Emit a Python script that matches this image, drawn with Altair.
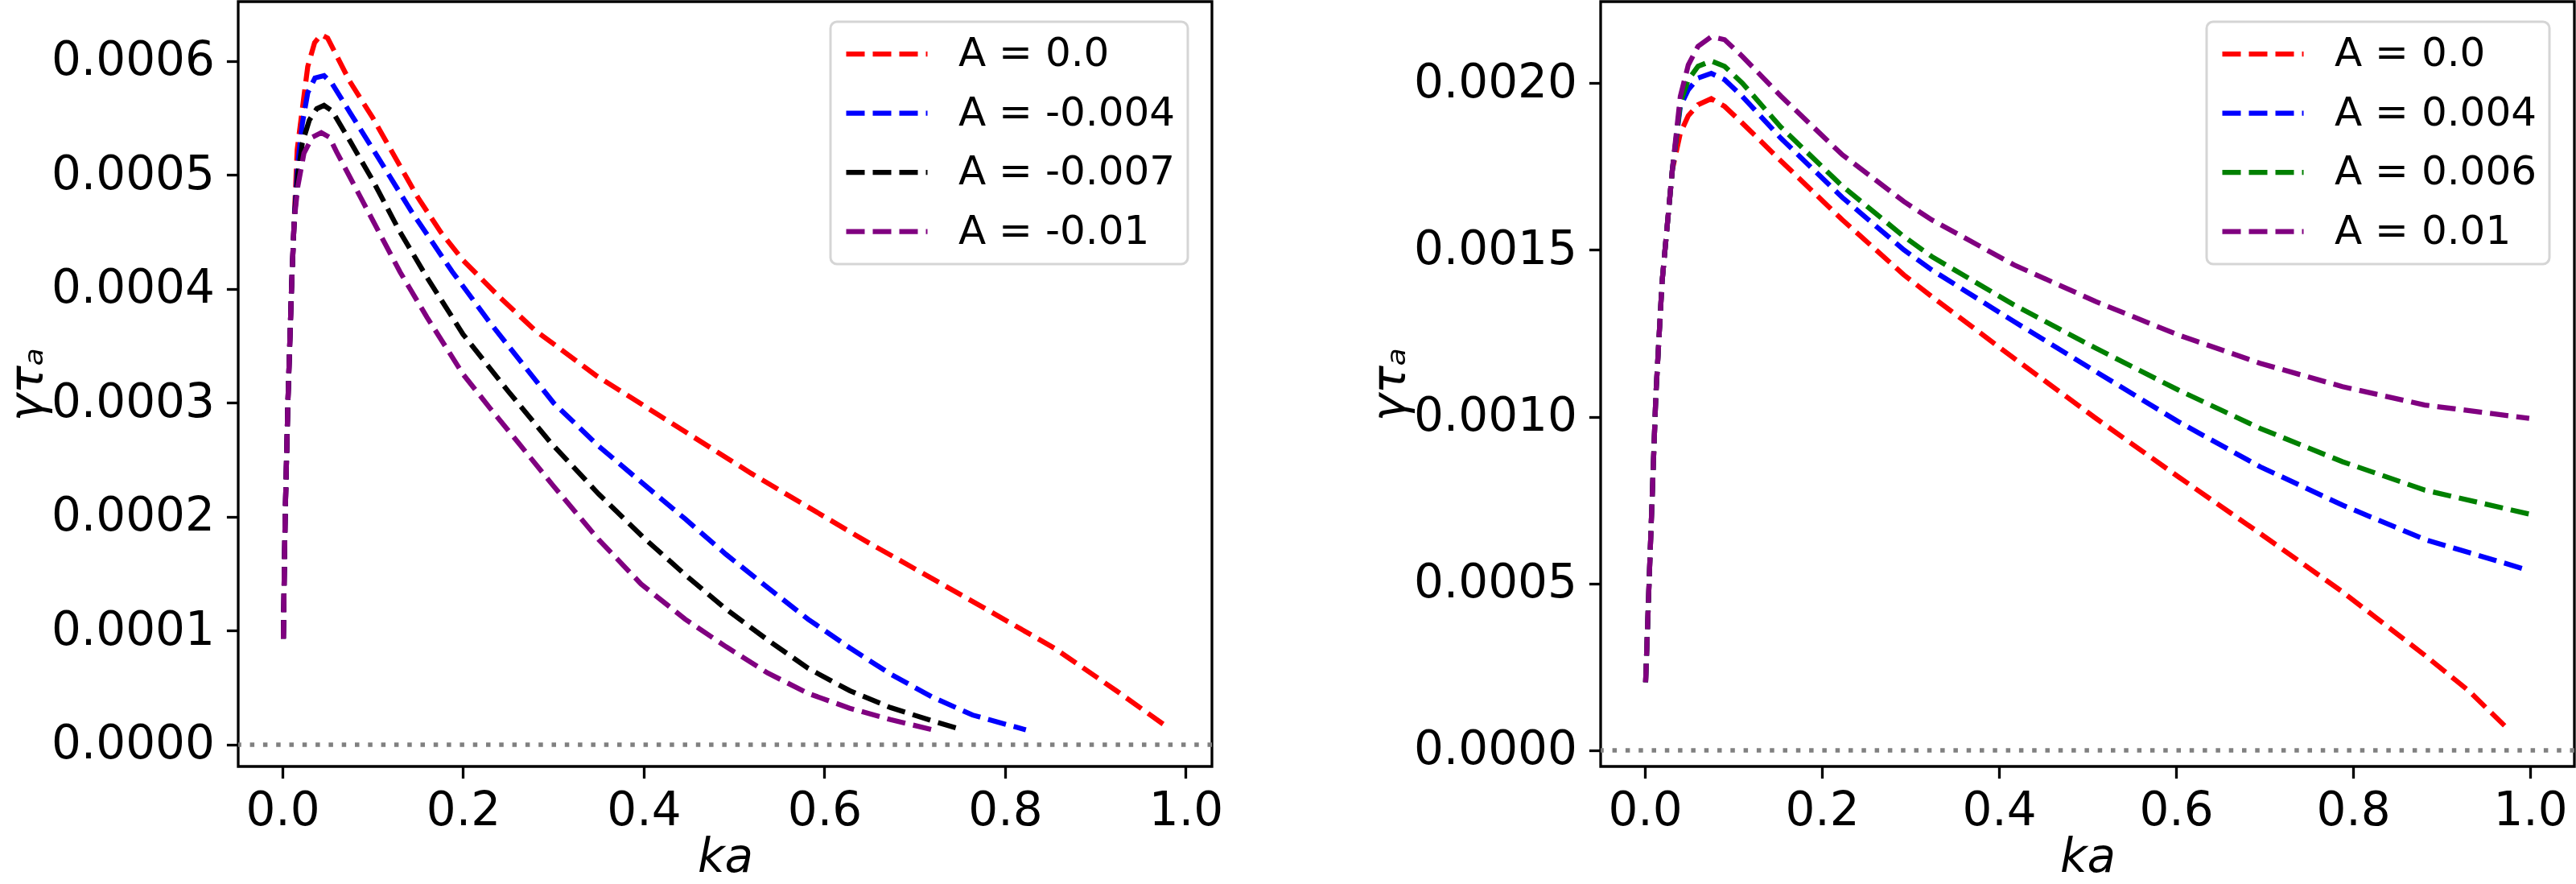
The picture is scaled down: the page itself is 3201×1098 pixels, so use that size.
import altair as alt
import pandas as pd

# ---------------- data ----------------
left_labels = ["A = 0.0", "A = -0.004", "A = -0.007", "A = -0.01"]
left_colors = ["red", "blue", "black", "purple"]

rise_x = [0.001, 0.002, 0.003, 0.0045, 0.006, 0.008, 0.010, 0.013]
rise_y = [0.93, 1.5, 2.0, 2.5, 3.0, 3.5, 4.0, 4.6]

l_red_x = rise_x + [0.0163, 0.0238, 0.028, 0.0356, 0.043, 0.05, 0.0745, 0.1, 0.125, 0.15, 0.175, 0.2, 0.24, 0.279, 0.347, 0.40, 0.519, 0.646, 0.773, 0.855, 0.923, 0.98]
l_red_y = rise_y + [5.22, 5.69, 5.95, 6.16, 6.23, 6.2, 5.82, 5.5, 5.15, 4.8, 4.5, 4.25, 3.93, 3.64, 3.24, 2.975, 2.38, 1.785, 1.217, 0.845, 0.474, 0.152]

l_blue_x = rise_x + [0.017, 0.022, 0.028, 0.036, 0.046, 0.055, 0.0745, 0.106, 0.1427, 0.188, 0.23, 0.27, 0.3, 0.35, 0.4007, 0.446, 0.491, 0.537, 0.582, 0.628, 0.673, 0.719, 0.764, 0.823]
l_blue_y = rise_y + [5.1, 5.45, 5.72, 5.85, 5.87, 5.8, 5.55, 5.15, 4.68, 4.15, 3.7, 3.3, 3.0, 2.62, 2.28, 1.98, 1.67, 1.38, 1.1, 0.85, 0.62, 0.42, 0.26, 0.13]

l_black_x = rise_x + [0.017, 0.022, 0.0297, 0.038, 0.046, 0.055, 0.0745, 0.1, 0.13, 0.16, 0.2, 0.25, 0.297, 0.35, 0.4007, 0.446, 0.491, 0.537, 0.582, 0.628, 0.673, 0.719, 0.753]
l_black_y = rise_y + [5.0, 5.28, 5.48, 5.58, 5.61, 5.56, 5.3, 4.95, 4.5, 4.1, 3.6, 3.1, 2.65, 2.2, 1.81, 1.49, 1.19, 0.92, 0.67, 0.474, 0.326, 0.21, 0.13]

l_purple_x = rise_x + [0.017, 0.0238, 0.033, 0.043, 0.052, 0.06, 0.08, 0.1, 0.13, 0.16, 0.2, 0.23, 0.261, 0.3, 0.35, 0.397, 0.446, 0.491, 0.537, 0.582, 0.628, 0.673, 0.72]
l_purple_y = rise_y + [4.9, 5.19, 5.33, 5.37, 5.33, 5.2, 4.9, 4.6, 4.15, 3.75, 3.25, 2.95, 2.65, 2.27, 1.8, 1.41, 1.1, 0.86, 0.63, 0.45, 0.32, 0.22, 0.13]

right_labels = ["A = 0.0", "A = 0.004", "A = 0.006", "A = 0.01"]
right_colors = ["red", "blue", "green", "purple"]

r_rise_x = [0.0008, 0.0055, 0.0124, 0.0194, 0.031]
r_rise_y = [2.04, 5.6, 10.66, 14.04, 17.4]

r_tail_x = [0.04, 0.049, 0.06, 0.075, 0.09, 0.11, 0.1535, 0.223, 0.2925, 0.324, 0.417, 0.5095, 0.6025, 0.695, 0.788, 0.881]

r_red_x = r_rise_x + r_tail_x + [0.93, 0.973]
r_red_y = r_rise_y + [18.5, 19.02, 19.35, 19.53, 19.3, 18.8, 17.67, 15.9, 14.25, 13.6, 11.75, 9.95, 8.2, 6.5, 4.75, 2.85, 1.8, 0.69]

r_blue_x = r_rise_x + r_tail_x + [0.999]
r_blue_y = r_rise_y + [19.3, 19.8, 20.15, 20.29, 20.1, 19.6, 18.35, 16.57, 15.0, 14.4, 12.85, 11.35, 9.85, 8.5, 7.35, 6.32, 5.39]

r_green_x = r_rise_x + r_tail_x + [0.999]
r_green_y = r_rise_y + [19.4, 20.1, 20.5, 20.66, 20.5, 20.0, 18.68, 16.91, 15.4, 14.8, 13.35, 12.05, 10.8, 9.65, 8.65, 7.8, 7.08]

r_purple_x = r_rise_x + r_tail_x + [0.999]
r_purple_y = r_rise_y + [19.6, 20.54, 21.1, 21.39, 21.3, 20.8, 19.61, 17.85, 16.45, 15.9, 14.55, 13.45, 12.45, 11.6, 10.9, 10.35, 9.95]

left_ticks_y = [0.0, 0.0001, 0.0002, 0.0003, 0.0004, 0.0005, 0.0006]
right_ticks_y = [0.0, 0.0005, 0.0010, 0.0015, 0.0020]
ticks_x = [0.0, 0.2, 0.4, 0.6, 0.8, 1.0]

FONT = "DejaVu Sans"
PW, PH = 1210, 950
LW = 6.25
DASH = [23, 10]


def frame(xs, ys, label):
    return pd.DataFrame({"ka": xs, "g": [v * 1e-4 for v in ys], "series": label})


def panel(series, labels, colors, ydomain, yticks, xdomain, legend_x):
    legend = alt.Legend(
        title=None, orient="none", legendX=legend_x, legendY=25,
        symbolType="stroke", symbolSize=101 * 101, symbolStrokeWidth=LW,
        symbolDash=DASH, symbolOffset=1, clipHeight=50,
        labelFontSize=50, labelFont=FONT, labelColor="black",
        labelOffset=35, rowPadding=23.5, padding=15, fillColor="white",
        strokeColor="#d5d5d5", cornerRadius=8, labelLimit=0,
    )
    xenc = alt.X(
        "ka:Q",
        scale=alt.Scale(domain=xdomain, nice=False, zero=False),
        axis=alt.Axis(values=ticks_x, format=".1f", title="ka",
                      titleFontStyle="italic", titlePadding=0),
    )
    yenc = alt.Y(
        "g:Q",
        scale=alt.Scale(domain=ydomain, nice=False, zero=False),
        axis=alt.Axis(values=yticks, format=".4f", title="γτₐ",
                      titleFontStyle="italic", titlePadding=32, labelLimit=0),
    )
    zero = alt.Chart(pd.DataFrame({"g": [0.0]})).mark_rule(
        color="#808080", strokeWidth=5.5, strokeDash=[5.5, 10.8]
    ).encode(y=alt.Y("g:Q", scale=alt.Scale(domain=ydomain, nice=False, zero=False)))
    layers = [zero]
    for (xs, ys), lab in zip(series, labels):
        layers.append(
            alt.Chart(frame(xs, ys, lab)).mark_line(
                strokeWidth=LW, strokeDash=DASH, strokeCap="butt", clip=True
            ).encode(
                x=xenc, y=yenc,
                color=alt.Color("series:N", sort=None,
                                scale=alt.Scale(domain=labels, range=colors),
                                legend=legend),
                order=alt.Order("ka:Q"),
            )
        )
    return alt.layer(*layers).properties(width=PW, height=PH)


left = panel(
    [(l_red_x, l_red_y), (l_blue_x, l_blue_y), (l_black_x, l_black_y), (l_purple_x, l_purple_y)],
    left_labels, left_colors, [-0.0000191, 0.000652], left_ticks_y, [-0.049, 1.029], 736,
)
right = panel(
    [(r_red_x, r_red_y), (r_blue_x, r_blue_y), (r_green_x, r_green_y), (r_purple_x, r_purple_y)],
    right_labels, right_colors, [-0.0000483, 0.002244], right_ticks_y, [-0.05, 1.05], 753,
)

chart = alt.hconcat(left, right, spacing=483, bounds="flush").resolve_scale(
    color="independent", x="independent", y="independent"
).resolve_legend(color="independent").properties(
    autosize=alt.AutoSizeParams(type="none"),
    padding={"left": 296, "top": 2, "right": 3201 - 296, "bottom": 1098 - 2},
    background="white",
).configure_view(
    stroke="black", strokeWidth=3.3
).configure_axis(
    domain=False, grid=False, ticks=True, tickColor="black", tickWidth=3.3,
    tickSize=14.6, labelFont=FONT, labelFontSize=58, labelColor="black",
    titleFont=FONT, titleFontSize=58, titleColor="black", titleFontWeight="normal",
).configure_axisX(labelPadding=12).configure_axisY(labelPadding=15).configure_legend(
    strokeWidth=3
)

chart.save("out.html", embed_options={"renderer": "svg", "actions": False})
